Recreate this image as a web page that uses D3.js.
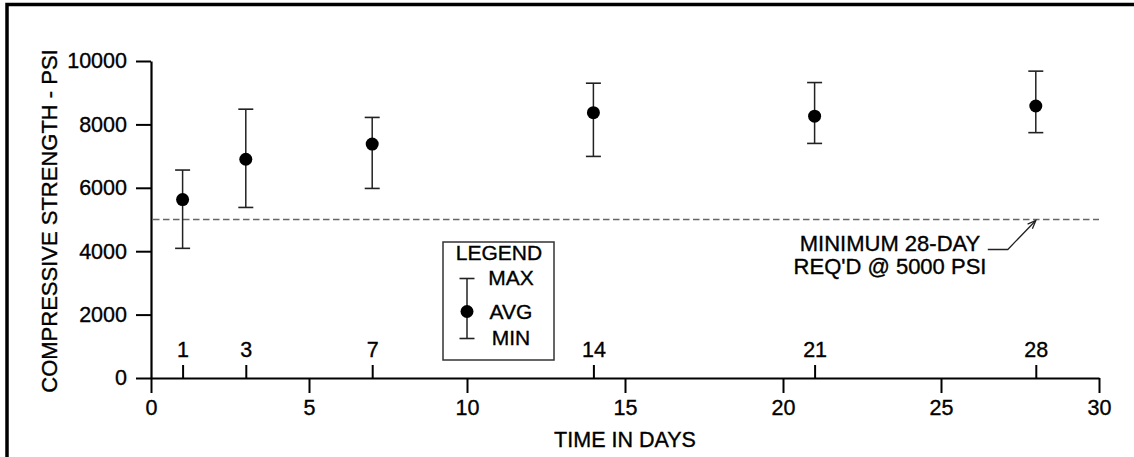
<!DOCTYPE html>
<html>
<head>
<meta charset="utf-8">
<script src="https://cdn.jsdelivr.net/npm/d3@7"></script>
<style>
  html, body { margin: 0; padding: 0; background: #fff; }
  svg { display: block; font-family: "Liberation Sans", Arial, sans-serif; }
  svg text { fill: #000; stroke: #000; stroke-width: 0.35px; }
</style>
</head>
<body>
<svg id="chart" width="1134" height="457"></svg>
<script>
// ---- data ----
const days      = [1, 3, 7, 14, 21, 28];
const avgPsi    = [5630, 6900, 7380, 8370, 8260, 8580];
const maxPsi    = [6560, 8480, 8220, 9300, 9320, 9680];
const minPsi    = [4090, 5380, 5980, 6990, 7400, 7740];
const xTicks    = [0, 5, 10, 15, 20, 25, 30];
const yTicks    = [0, 2000, 4000, 6000, 8000, 10000];
const requiredPsi = 5000;
const requiredDay = 28;
const xTitle = "TIME IN DAYS";
const yTitle = "COMPRESSIVE STRENGTH - PSI";
const noteLines = ["MINIMUM 28-DAY", "REQ'D @ 5000 PSI"];
const legendTitle = "LEGEND";
const legendLabels = ["MAX", "AVG", "MIN"];

// ---- layout ----
const svg = d3.select("#chart");
const W = 1134, H = 457;
const x = d3.scaleLinear().domain([0, 30]).range([151, 1099]);
const y = d3.scaleLinear().domain([0, 10000]).range([378, 61]);

svg.append("rect").attr("width", W).attr("height", H).attr("fill", "#fff");
// outer frame (top & left visible)
svg.append("rect").attr("x", 7).attr("y", 4.5).attr("width", W + 20).attr("height", H + 20)
  .attr("fill", "none").attr("stroke", "#000").attr("stroke-width", 3.5);

const tickFont = "21.5px";

// y axis
const yAxis = svg.append("g").attr("transform", `translate(${x(0)},0)`)
  .call(d3.axisLeft(y).tickValues(yTicks).tickSize(15).tickSizeOuter(0).tickPadding(9).tickFormat(d3.format("d")));
// x axis bottom
const xAxis = svg.append("g").attr("transform", `translate(0,${y(0)})`)
  .call(d3.axisBottom(x).tickValues(xTicks).tickSize(15).tickSizeOuter(0).tickPadding(6.5).tickFormat(d3.format("d")));
// x axis top ticks (test days)
const xTop = svg.append("g").attr("transform", `translate(0,${y(0)})`)
  .call(d3.axisTop(x).tickValues(days).tickSize(13).tickSizeOuter(0).tickPadding(8).tickFormat(d3.format("d")));
xTop.select(".domain").remove();

[yAxis, xAxis, xTop].forEach(g => {
  g.attr("font-size", null).attr("font-family", null);
  g.selectAll("path.domain").attr("stroke", "#000").attr("stroke-width", 2.2);
  g.selectAll(".tick line").attr("stroke", "#000").attr("stroke-width", 2);
  g.selectAll(".tick text").style("font-size", tickFont);
});

// minimum required dashed line
svg.append("line")
  .attr("x1", x(0) + 2).attr("x2", x(30))
  .attr("y1", y(requiredPsi)).attr("y2", y(requiredPsi))
  .attr("stroke", "#666").attr("stroke-width", 1.6).attr("stroke-dasharray", "6.5,3.5");

// error bars
const data = days.map((d, i) => ({ day: d, avg: avgPsi[i], max: maxPsi[i], min: minPsi[i] }));
const capW = 7.5;
const bars = svg.append("g").selectAll("g").data(data).join("g");
bars.append("line")
  .attr("x1", d => x(d.day)).attr("x2", d => x(d.day))
  .attr("y1", d => y(d.max)).attr("y2", d => y(d.min))
  .attr("stroke", "#222").attr("stroke-width", 1.5);
bars.append("line")
  .attr("x1", d => x(d.day) - capW).attr("x2", d => x(d.day) + capW)
  .attr("y1", d => y(d.max)).attr("y2", d => y(d.max))
  .attr("stroke", "#222").attr("stroke-width", 1.6);
bars.append("line")
  .attr("x1", d => x(d.day) - capW).attr("x2", d => x(d.day) + capW)
  .attr("y1", d => y(d.min)).attr("y2", d => y(d.min))
  .attr("stroke", "#222").attr("stroke-width", 1.6);
bars.append("circle")
  .attr("cx", d => x(d.day)).attr("cy", d => y(d.avg)).attr("r", 6.5)
  .attr("fill", "#000");

// axis titles
svg.append("text").attr("x", (x(0) + x(30)) / 2).attr("y", 447)
  .attr("text-anchor", "middle").style("font-size", "21.5px").text(xTitle);
svg.append("text").attr("transform", `translate(56.5,${(y(0) + y(10000)) / 2 + 1.5}) rotate(-90)`)
  .attr("text-anchor", "middle").style("font-size", "22px").text(yTitle);

// annotation
const tipX = x(requiredDay), tipY = y(requiredPsi);
const note = svg.append("g");
note.selectAll("text").data(noteLines).join("text")
  .attr("x", 890).attr("y", (d, i) => 251 + i * 23)
  .attr("text-anchor", "middle").style("font-size", "22px").text(d => d);
note.append("polyline")
  .attr("points", `${tipX - 48},${tipY + 30} ${tipX - 28},${tipY + 30} ${tipX},${tipY + 1}`)
  .attr("fill", "none").attr("stroke", "#222").attr("stroke-width", 1.3);
// arrowhead
const ang = Math.atan2(-29, 28);
const ah = 9, spread = 0.38;
note.append("path")
  .attr("d", `M${tipX - ah * Math.cos(ang - spread)},${tipY + 1 - ah * Math.sin(ang - spread)} L${tipX},${tipY + 1} L${tipX - ah * Math.cos(ang + spread)},${tipY + 1 - ah * Math.sin(ang + spread)}`)
  .attr("fill", "none").attr("stroke", "#222").attr("stroke-width", 1.3);

// legend
const lg = svg.append("g");
lg.append("rect").attr("x", 443).attr("y", 242).attr("width", 111).attr("height", 118)
  .attr("fill", "#fff").attr("stroke", "#333").attr("stroke-width", 1.5);
lg.append("text").attr("x", 499).attr("y", 259.5).attr("text-anchor", "middle")
  .style("font-size", "21px").text(legendTitle);
const lx = 467, lTop = 278.5, lMid = 311.5, lBot = 338.5;
lg.append("line").attr("x1", lx).attr("x2", lx).attr("y1", lTop).attr("y2", lBot)
  .attr("stroke", "#222").attr("stroke-width", 1.5);
[lTop, lBot].forEach(yy => lg.append("line").attr("x1", lx - capW).attr("x2", lx + capW)
  .attr("y1", yy).attr("y2", yy).attr("stroke", "#222").attr("stroke-width", 1.6));
lg.append("circle").attr("cx", lx).attr("cy", lMid).attr("r", 6.5).attr("fill", "#000");
lg.selectAll("text.lab").data(legendLabels).join("text").attr("class", "lab")
  .attr("x", 511).attr("y", (d, i) => [285, 318.5, 345][i])
  .attr("text-anchor", "middle").style("font-size", "21px").text(d => d);
</script>
</body>
</html>
